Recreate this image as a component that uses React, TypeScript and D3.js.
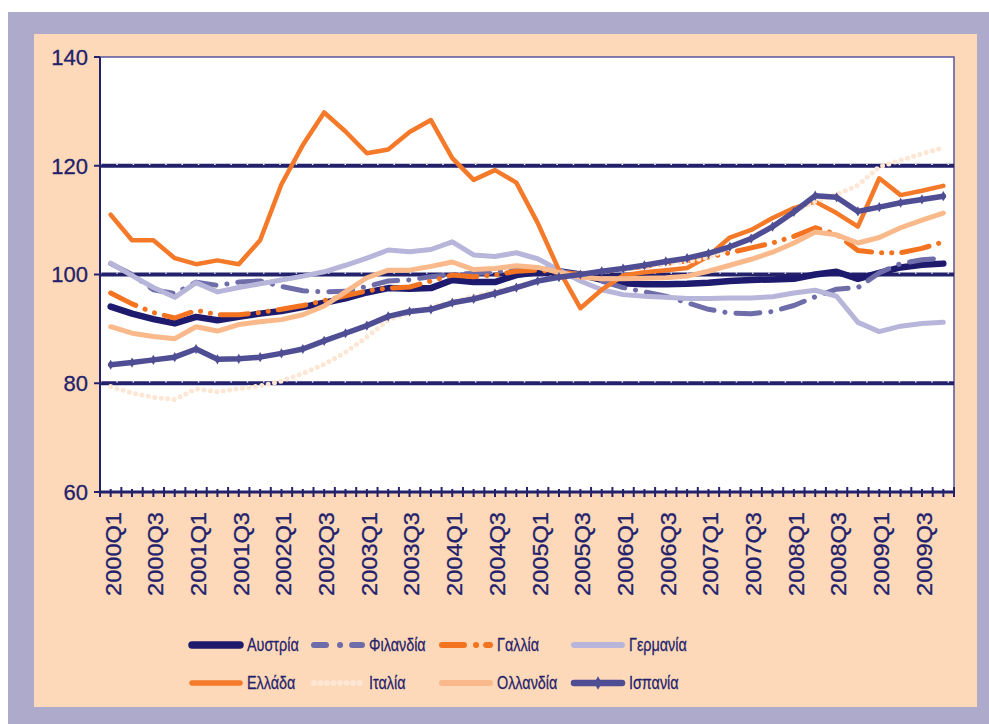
import React from "react";
import * as d3 from "d3";

// quarterly index, 2005 = 100
const quarters = [
  "2000Q1", "2000Q2", "2000Q3", "2000Q4", "2001Q1", "2001Q2", "2001Q3", "2001Q4",
  "2002Q1", "2002Q2", "2002Q3", "2002Q4", "2003Q1", "2003Q2", "2003Q3", "2003Q4",
  "2004Q1", "2004Q2", "2004Q3", "2004Q4", "2005Q1", "2005Q2", "2005Q3", "2005Q4",
  "2006Q1", "2006Q2", "2006Q3", "2006Q4", "2007Q1", "2007Q2", "2007Q3", "2007Q4",
  "2008Q1", "2008Q2", "2008Q3", "2008Q4", "2009Q1", "2009Q2", "2009Q3", "2009Q4",
];

const austria = [94.1, 92.8, 91.8, 91.0, 92.2, 91.6, 92.2, 92.8, 93.3, 94.0, 94.8, 95.6, 96.7, 97.5, 97.4, 97.5, 99.0, 98.6, 98.6, 99.9, 100.4, 100.6, 100.0, 99.0, 98.4, 98.2, 98.2, 98.3, 98.5, 98.8, 99.0, 99.1, 99.2, 100.0, 100.5, 99.2, 100.3, 101.3, 101.8, 102.0];
const finland = [102.0, 100.0, 97.2, 96.5, 98.6, 98.0, 98.6, 98.8, 97.8, 97.0, 96.8, 96.9, 97.8, 98.8, 99.0, 99.6, 100.0, 100.2, 100.4, 101.2, 101.3, 100.6, 100.0, 98.8, 97.6, 96.8, 96.0, 94.8, 93.6, 92.9, 92.8, 93.2, 94.3, 95.9, 97.3, 97.6, 100.3, 102.0, 102.7, 103.0];
const france = [96.6, 94.6, 93.0, 92.0, 93.4, 92.6, 92.6, 93.0, 93.6, 94.3, 95.2, 96.1, 97.0, 97.5, 97.7, 98.8, 99.9, 99.6, 99.9, 100.6, 100.8, 100.4, 100.0, 100.5, 101.0, 101.5, 102.0, 102.5, 103.2, 104.0, 104.9, 105.8, 107.0, 108.6, 107.4, 104.4, 104.0, 104.0, 104.8, 106.0];
const germany = [102.1, 99.8, 97.6, 95.8, 98.5, 96.8, 97.6, 98.3, 99.0, 99.7, 100.5, 101.7, 103.0, 104.5, 104.2, 104.6, 106.0, 103.6, 103.3, 104.0, 102.9, 100.8, 98.8, 97.2, 96.3, 96.0, 95.8, 95.6, 95.6, 95.7, 95.7, 95.9, 96.6, 97.1, 96.0, 91.2, 89.5, 90.5, 91.0, 91.2];
const greece = [111.0, 106.3, 106.3, 103.0, 101.9, 102.6, 101.9, 106.3, 116.6, 123.8, 129.8, 126.3, 122.3, 123.0, 126.2, 128.4, 121.4, 117.4, 119.2, 116.9, 109.5, 100.8, 93.8, 97.2, 99.8, 100.4, 100.8, 101.2, 103.4, 106.8, 108.2, 110.4, 112.2, 113.4, 111.3, 108.8, 117.7, 114.6, 115.4, 116.3];
const italy = [79.4, 78.2, 77.4, 77.0, 79.0, 78.4, 79.0, 79.5, 80.4, 81.8, 83.5, 85.7, 88.5, 91.6, 93.0, 94.0, 95.0, 96.0, 96.9, 97.7, 99.0, 99.6, 100.0, 100.5, 101.0, 101.5, 102.0, 102.3, 103.2, 104.8, 106.8, 108.9, 111.5, 113.5, 114.7, 116.4, 119.8, 121.0, 122.2, 123.3];
const netherlands = [90.4, 89.2, 88.6, 88.2, 90.4, 89.6, 90.8, 91.3, 91.7, 92.6, 94.2, 96.8, 99.4, 100.8, 100.8, 101.5, 102.3, 100.9, 101.1, 101.6, 101.3, 100.4, 99.5, 99.2, 99.2, 99.3, 99.4, 99.7, 100.6, 101.7, 102.8, 104.1, 105.8, 107.8, 107.3, 105.8, 106.8, 108.6, 110.0, 111.3];
const spain = [83.4, 83.8, 84.3, 84.8, 86.3, 84.4, 84.5, 84.8, 85.5, 86.3, 87.8, 89.2, 90.6, 92.3, 93.2, 93.6, 94.8, 95.5, 96.5, 97.6, 98.8, 99.5, 100.0, 100.6, 101.1, 101.7, 102.4, 103.0, 103.9, 105.1, 106.6, 108.8, 111.5, 114.5, 114.2, 111.6, 112.4, 113.2, 113.8, 114.4];

const yTicks = [60, 80, 100, 120, 140];
const gridValues = [80, 100, 120];

const series = [
  { name: "Αυστρία", values: austria, color: "#1e1b6e", width: 6.5, dash: "" },
  { name: "Φιλανδία", values: finland, color: "#6e6daa", width: 5, dash: "24 11 0.1 11" },
  { name: "Γαλλία", values: france, color: "#f37321", width: 5, dash: "28 10 0.1 10 0.1 10" },
  { name: "Γερμανία", values: germany, color: "#b7b6da", width: 5, dash: "" },
  { name: "Ελλάδα", values: greece, color: "#f47a2a", width: 4.5, dash: "" },
  { name: "Ιταλία", values: italy, color: "#fde6d3", width: 5, dash: "0 6.5" },
  { name: "Ολλανδία", values: netherlands, color: "#f9b98a", width: 5, dash: "" },
  { name: "Ισπανία", values: spain, color: "#4f4d93", width: 5.5, dash: "", marker: true },
];

const font = "'Liberation Sans', Arial, sans-serif";
const ink = "#23216b";

export default function App() {
  const left = 100, right = 954, top = 57, bottom = 492;

  const x = d3.scaleBand<string>().domain(quarters).range([left, right]);
  const bw = x.bandwidth();
  const xc = (q: string) => (x(q) as number) + bw / 2;
  const y = d3.scaleLinear().domain([60, 140]).range([bottom, top]);

  const line = d3
    .line<number>()
    .x((_, i) => xc(quarters[i]))
    .y((d) => y(d));

  const axisTicks = d3.range(0, quarters.length * 2 + 1).map((k) => left + (k * bw) / 2);
  const diamond = d3.symbol().type(d3.symbolDiamond).size(30)();

  const legendCols = [190, 312, 440, 572];
  const legendRows = [645, 683];

  return (
    <svg
      width={989}
      height={724}
      style={{ position: "absolute", left: 0, top: 0 }}
      fontFamily={font}
    >
      <rect x={8} y={12} width={981} height={712} fill="#aeaacb" />
      <rect x={34} y={34} width={943} height={673} fill="#fdd9b9" />
      <rect x={left} y={top} width={right - left} height={bottom - top} fill="#ffffff" stroke="#5856a0" strokeWidth={1.5} />

      {/* grid lines */}
      {gridValues.map((v) => (
        <g key={v}>
          <line x1={left} x2={right} y1={y(v)} y2={y(v)} stroke={ink} strokeWidth={4} />
          <line x1={left} x2={right} y1={y(v) - 1.3} y2={y(v) - 1.3} stroke="#ffffff" strokeWidth={1.2} strokeDasharray="1.5 14.8" />
        </g>
      ))}

      {/* y axis */}
      <line x1={left} x2={left} y1={top} y2={bottom} stroke={ink} strokeWidth={2} />
      {yTicks.map((t) => (
        <g key={t}>
          <line x1={left - 6} x2={left} y1={y(t)} y2={y(t)} stroke={ink} strokeWidth={2} />
          <text x={left - 12} y={y(t)} dy="0.36em" textAnchor="end" fontSize={22} fill={ink} stroke={ink} strokeWidth={0.3}>
            {t}
          </text>
        </g>
      ))}

      {/* series */}
      {series.map((s) => (
        <g key={s.name}>
          <path
            d={line(s.values) as string}
            fill="none"
            stroke={s.color}
            strokeWidth={s.width}
            strokeLinejoin="round"
            strokeLinecap="round"
            strokeDasharray={s.dash || undefined}
          />
          {s.marker &&
            s.values.map((v, i) => (
              <path key={i} d={diamond as string} transform={`translate(${xc(quarters[i])},${y(v)})`} fill={s.color} />
            ))}
        </g>
      ))}

      {/* x axis */}
      <line x1={left} x2={right} y1={bottom} y2={bottom} stroke={ink} strokeWidth={3} />
      {axisTicks.map((tx, k) => (
        <line key={k} x1={tx} x2={tx} y1={bottom - (k % 2 ? 3 : 5)} y2={bottom + 5} stroke={ink} strokeWidth={2} />
      ))}
      {quarters.map((q, i) =>
        i % 2 === 0 ? (
          <text
            key={q}
            transform={`translate(${xc(q) + 2},512) rotate(-90)`}
            textAnchor="end"
            dy="0.36em"
            fontSize={22}
            textLength={84}
            lengthAdjust="spacingAndGlyphs"
            fill={ink}
            stroke={ink}
            strokeWidth={0.3}
          >
            {q}
          </text>
        ) : null
      )}

      {/* legend */}
      {series.map((s, i) => {
        const lx = legendCols[i % 4];
        const ly = legendRows[Math.floor(i / 4)];
        return (
          <g key={s.name}>
            <line
              x1={lx + 2}
              x2={lx + 50}
              y1={ly}
              y2={ly}
              stroke={s.color}
              strokeWidth={s.width + 1}
              strokeLinecap="round"
              strokeDasharray={s.dash ? (i === 1 ? "12 14 0.1 12" : i === 2 ? "22 12 0.1 10" : s.dash) : undefined}
            />
            {s.marker && <path d={diamond as string} transform={`translate(${lx + 26},${ly}) scale(1.3)`} fill={s.color} />}
            <text
              x={lx + 57}
              y={ly}
              dy="0.36em"
              fontSize={18}
              fill={ink}
              stroke={ink}
              strokeWidth={0.25}
              transform={`translate(${(lx + 57) * 0.2},0) scale(0.8,1)`}
            >
              {s.name}
            </text>
          </g>
        );
      })}
    </svg>
  );
}
